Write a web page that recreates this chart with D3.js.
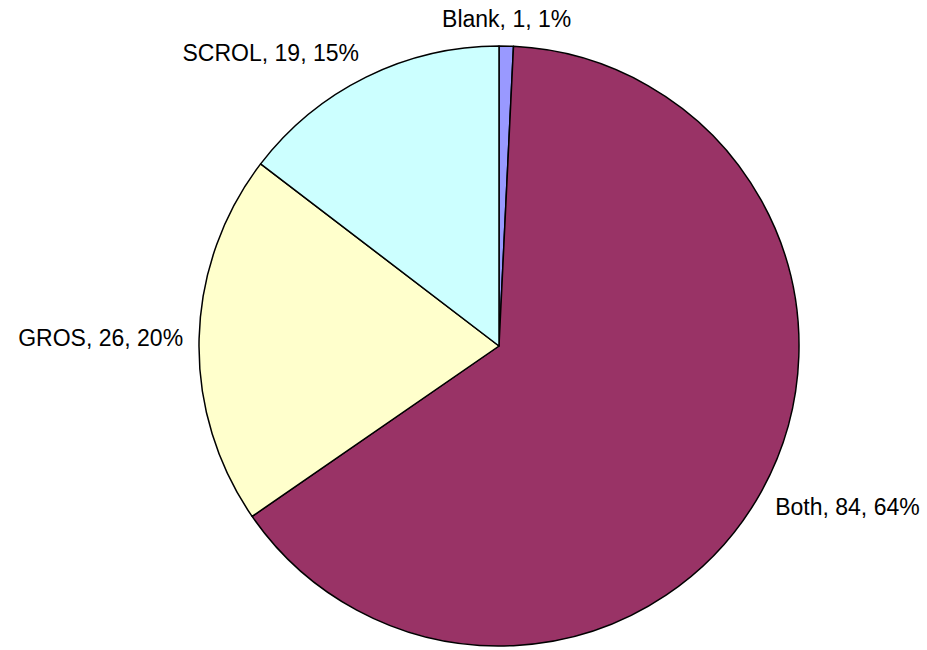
<!DOCTYPE html>
<html>
<head>
<meta charset="utf-8">
<script src="https://cdn.jsdelivr.net/npm/d3@7"></script>
<style>
  html, body { margin: 0; padding: 0; background: #fff; }
  svg { display: block; }
  text { font-family: "Liberation Sans", Arial, sans-serif; fill: #000; }
</style>
</head>
<body>
<svg id="chart" width="927" height="650"></svg>
<script>
// Responses by category, clockwise from 12 o'clock
const categories = ["Blank", "Both", "GROS", "SCROL"];
const counts = [1, 84, 26, 19];
const percentLabels = ["1%", "64%", "20%", "15%"];
const colors = ["#9999FF", "#993366", "#FFFFCC", "#CCFFFF"];

const width = 927, height = 650;
const cx = 499, cy = 346, radius = 300;
const labelGap = 16;
const fontSize = 23;

const svg = d3.select("#chart");
const g = svg.append("g").attr("transform", `translate(${cx},${cy})`);

const rows = categories.map((c, i) => ({ name: c, value: counts[i], pct: percentLabels[i], color: colors[i] }));

const pie = d3.pie().value(d => d.value).sort(null);
const arc = d3.arc().innerRadius(0).outerRadius(radius);
const arcs = pie(rows);

g.selectAll("path.slice")
  .data(arcs)
  .join("path")
  .attr("class", "slice")
  .attr("d", arc)
  .attr("fill", d => d.data.color)
  .attr("stroke", "#000")
  .attr("stroke-width", 1.5)
  .attr("stroke-linejoin", "round");

// Labels sit just outside the rim, on the bisector of each slice
g.selectAll("text.lbl")
  .data(arcs)
  .join("text")
  .attr("class", "lbl")
  .style("font-size", fontSize + "px")
  .text(d => `${d.data.name}, ${d.data.value}, ${d.data.pct}`)
  .each(function(d) {
    const a = (d.startAngle + d.endAngle) / 2;
    const s = Math.sin(a), c = Math.cos(a);
    const px = s * (radius + labelGap), py = -c * (radius + labelGap);
    const anchor = s > 0.1 ? "start" : (s < -0.1 ? "end" : "middle");
    const midY = py - c * fontSize / 2 + Math.max(0, -c) * 3;
    d3.select(this)
      .attr("text-anchor", anchor)
      .attr("x", px)
      .attr("y", midY + fontSize * 0.36);
  });
</script>
</body>
</html>
